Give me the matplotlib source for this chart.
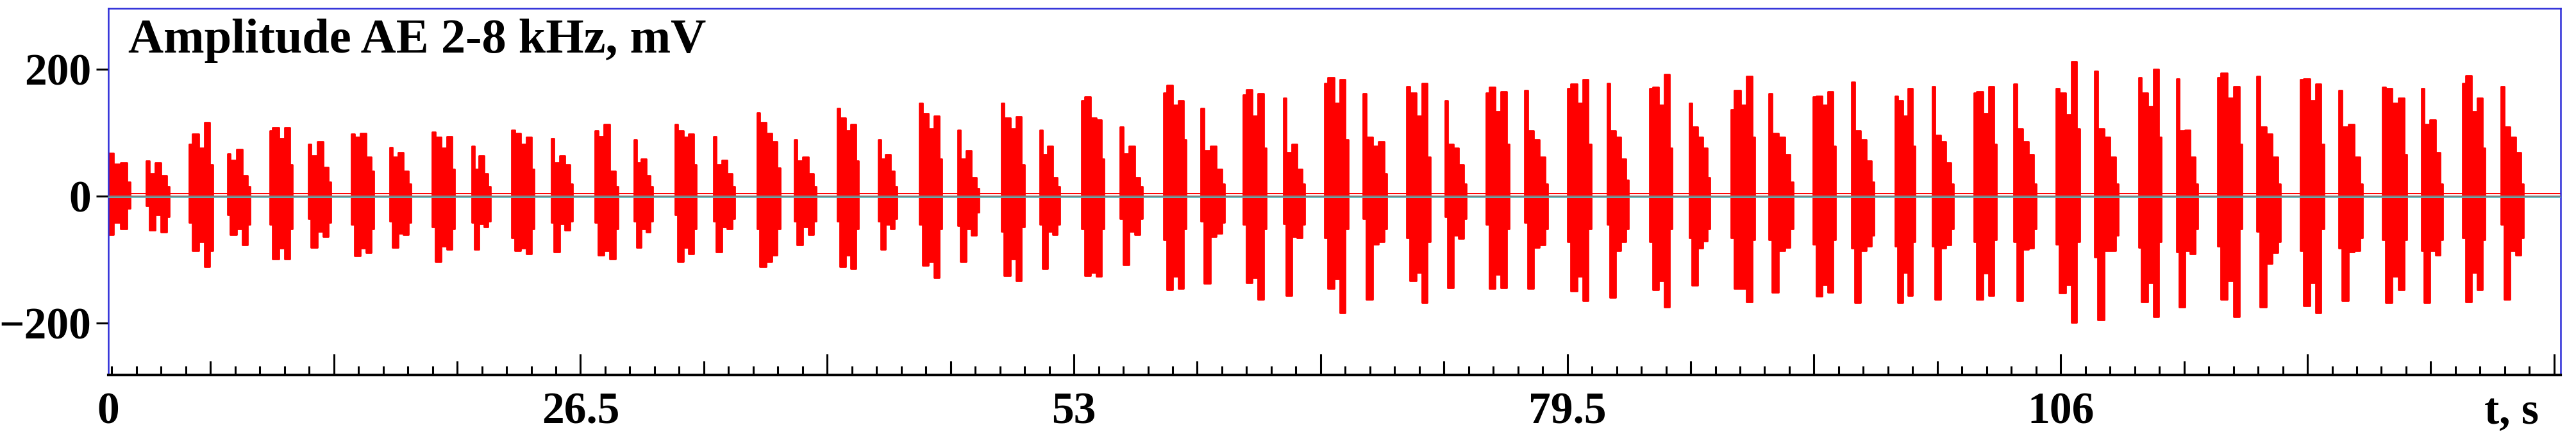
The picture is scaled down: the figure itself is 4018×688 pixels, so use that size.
import numpy as np
import matplotlib
matplotlib.use('Agg')
from matplotlib import pyplot as plt

# burst envelopes (time in s, amplitude in mV)
burst_start = [0.83, 3.17, 5.48, 7.54, 9.81, 11.88, 14.19, 16.25, 18.53, 20.66,
               22.80, 24.93, 27.27, 29.37, 31.58, 33.64, 35.98, 37.98, 40.29, 42.49,
               44.70, 46.76, 49.10, 51.17, 53.41, 55.48, 57.82, 59.81, 62.09, 64.26,
               66.46, 68.53, 70.87, 72.93, 75.14, 77.20, 79.51, 81.65, 83.92, 86.05,
               88.29, 90.32, 92.70, 94.77, 97.11, 99.10, 101.34, 103.48, 105.75, 107.82,
               110.19, 112.22, 114.43, 116.53, 118.87, 120.94, 123.28, 125.38, 127.58, 129.65]
burst_end = [2.31, 4.41, 6.75, 8.75, 11.02, 13.09, 15.39, 17.39, 19.73, 21.66,
             24.00, 26.07, 28.51, 30.37, 32.71, 34.78, 37.22, 39.15, 41.43, 43.49,
             45.90, 47.90, 50.34, 52.24, 54.61, 56.68, 59.02, 61.09, 63.33, 65.39,
             67.73, 69.80, 72.14, 74.07, 76.38, 78.44, 80.78, 82.78, 85.12, 87.16,
             89.57, 91.63, 93.90, 95.97, 98.17, 100.24, 102.55, 104.68, 107.02, 109.09,
             111.40, 113.36, 115.74, 117.80, 120.14, 122.21, 124.59, 126.52, 128.79, 130.85]
burst_top = [
    [70, 68, 50, 52, 22], [56, 35, 52, 32, 15], [82, 98, 76, 116, 49], [67, 57, 74, 32, 15],
    [103, 108, 91, 108, 49], [82, 64, 86, 45, 22], [98, 93, 99, 62, 39], [77, 62, 69, 39, 19],
    [101, 93, 76, 94, 42], [79, 42, 64, 35, 15], [104, 99, 82, 93, 42], [91, 52, 64, 49, 19],
    [103, 94, 113, 39, 15], [89, 52, 59, 32, 15], [113, 103, 93, 98, 49], [94, 49, 57, 35, 15],
    [131, 116, 99, 86, 44], [89, 56, 62, 35, 15], [138, 123, 103, 113, 56], [89, 59, 66, 39, 15],
    [146, 130, 106, 126, 59], [104, 59, 72, 29, 12], [146, 123, 106, 125, 49], [104, 66, 79, 29, 15],
    [150, 157, 123, 120, 59], [109, 67, 79, 29, 15], [163, 175, 143, 150, 89], [138, 72, 79, 42, 19],
    [160, 168, 126, 162, 76], [155, 69, 82, 42, 19], [178, 187, 146, 184, 89], [162, 93, 79, 86, 35],
    [173, 163, 126, 178, 62], [150, 82, 76, 49, 19], [163, 172, 133, 165, 82], [167, 103, 89, 62, 19],
    [170, 177, 146, 184, 82], [178, 103, 93, 59, 25], [170, 172, 143, 192, 76], [146, 109, 93, 76, 29],
    [136, 167, 143, 189, 93], [162, 99, 93, 66, 22], [157, 158, 143, 165, 79], [180, 103, 89, 56, 22],
    [158, 150, 126, 170, 79], [173, 96, 86, 52, 19], [163, 165, 130, 173, 82], [177, 106, 86, 66, 19],
    [170, 163, 128, 212, 106], [197, 106, 93, 62, 19], [187, 163, 141, 200, 93], [185, 103, 104, 62, 19],
    [187, 194, 155, 173, 82], [189, 109, 98, 62, 19], [184, 185, 150, 177, 82], [167, 109, 113, 62, 19],
    [172, 170, 146, 155, 66], [170, 113, 120, 69, 19], [178, 190, 133, 155, 76], [173, 109, 93, 69, 19]]
burst_bot = [
    [-62, -61, -42, -52, -19], [-15, -54, -29, -57, -32], [-42, -86, -72, -111, -86], [-29, -61, -52, -77, -45],
    [-45, -99, -82, -99, -52], [-35, -81, -56, -64, -42], [-45, -94, -82, -89, -52], [-39, -81, -59, -61, -42],
    [-49, -103, -79, -84, -52], [-42, -84, -44, -49, -39], [-66, -86, -82, -91, -52], [-42, -88, -44, -54, -39],
    [-42, -93, -86, -99, -52], [-39, -81, -52, -57, -39], [-29, -103, -81, -91, -52], [-39, -88, -49, -52, -35],
    [-52, -111, -103, -93, -52], [-39, -77, -49, -61, -39], [-39, -111, -93, -114, -52], [-39, -84, -45, -52, -35],
    [-45, -109, -103, -128, -52], [-47, -103, -52, -62, -25], [-56, -125, -99, -133, -49], [-45, -114, -56, -61, -45],
    [-52, -125, -120, -126, -52], [-35, -108, -56, -61, -35], [-69, -148, -126, -146, -52], [-39, -138, -64, -59, -42],
    [-45, -136, -128, -163, -52], [-44, -157, -64, -66, -45], [-66, -146, -130, -184, -52], [-35, -163, -76, -72, -52],
    [-66, -133, -120, -168, -72], [-32, -145, -62, -67, -35], [-45, -146, -123, -145, -52], [-42, -146, -81, -77, -52],
    [-72, -150, -126, -165, -52], [-45, -160, -86, -72, -52], [-72, -148, -133, -175, -52], [-66, -141, -82, -71, -52],
    [-66, -146, -146, -167, -69], [-69, -152, -86, -81, -52], [-76, -158, -140, -152, -69], [-82, -168, -86, -79, -62],
    [-79, -168, -120, -157, -72], [-79, -163, -82, -77, -52], [-72, -163, -121, -157, -69], [-72, -165, -84, -82, -52],
    [-76, -153, -140, -199, -72], [-96, -195, -86, -86, -62], [-81, -167, -136, -190, -72], [-88, -175, -86, -91, -52],
    [-79, -163, -133, -190, -52], [-56, -175, -106, -89, -72], [-86, -173, -136, -184, -52], [-82, -165, -88, -86, -66],
    [-69, -168, -126, -148, -69], [-86, -168, -86, -93, -69], [-66, -167, -120, -148, -69], [-45, -163, -86, -93, -66]]

y_ticks = [200, 0, -200]
x_labels = ['26.5', '53', '79.5', '106']
x_label_pos = [26.5, 53, 79.5, 106]

# share of a burst taken by each envelope step
step_frac = np.array([0.13, 0.27, 0.25, 0.23, 0.12])

blue = '#2a2ad8'
font = dict(family='Liberation Serif', weight='bold')

fig = plt.figure(figsize=(40.18, 6.88), dpi=100)
ax = fig.add_axes([169 / 4018, 1 - 585 / 688, (3994 - 169) / 4018, (585 - 13) / 688])
ax.set_xlim(1.14, 132.85)
ax.set_ylim(-282, 296)

for t0, t1, top, bot in zip(burst_start, burst_end, burst_top, burst_bot):
    edges = t0 + (t1 - t0) * np.r_[0, np.cumsum(step_frac)]
    ax.fill_between(edges, bot + [bot[-1]], top + [top[-1]], step='post',
                    facecolor='red', edgecolor='red', lw=2.0, zorder=2)

ax.axhline(4, color='red', lw=1.4, zorder=1)
ax.axhline(-2.5, color='#40e0e0', lw=1.2, zorder=3)
ax.axhline(0, color='#808080', lw=2.0, zorder=4)

# frame
for s in ['left', 'top', 'right']:
    ax.spines[s].set_color(blue)
    ax.spines[s].set_linewidth(1.8)
ax.spines['bottom'].set_color('black')
ax.spines['bottom'].set_linewidth(3)

ax.set_yticks(y_ticks)
ax.set_yticklabels(['200', '0', '\u2212200'], fontsize=50, **font)
ax.tick_params(axis='y', direction='out', length=14, width=2.2, pad=5, colors='black')

# x ticks: tall every 13.25 s, minor every 1.325 s
ax.set_xticks(np.arange(13.25, 133, 13.25))
ax.set_xticks(np.arange(1.325, 133, 1.325), minor=True)
ax.set_xticklabels([])
ax.tick_params(axis='x', which='major', direction='in', length=24, width=2.2)
ax.tick_params(axis='x', which='minor', direction='in', length=10, width=2.2)

# medium ticks on a twin axis
ax2 = ax.twiny()
ax2.set_xlim(ax.get_xlim())
ax2.xaxis.set_ticks_position('bottom')
ax2.set_xticks(np.arange(6.625, 133, 13.25))
ax2.set_xticklabels([])
ax2.tick_params(axis='x', direction='in', length=16, width=2.2)
for s in ax2.spines.values():
    s.set_visible(False)
ax2.patch.set_visible(False)

for x, lab in zip(x_label_pos, x_labels):
    ax.annotate(lab, xy=(x, 0), xycoords=('data', 'axes fraction'), xytext=(0, -19),
                textcoords='offset points', ha='center', va='top', fontsize=50, **font)
ax.annotate('0', xy=(0, 0), xycoords='axes fraction', xytext=(0, -19),
            textcoords='offset points', ha='center', va='top', fontsize=50, **font)
ax.annotate('t, s', xy=(130.2, 0), xycoords=('data', 'axes fraction'), xytext=(0, -19),
            textcoords='offset points', ha='center', va='top', fontsize=50, **font)

ax.text(0.008, 0.88, 'Amplitude AE 2-8 kHz, mV', transform=ax.transAxes,
        fontsize=55, ha='left', va='baseline', **font)

fig.savefig('out.png', dpi=100)
